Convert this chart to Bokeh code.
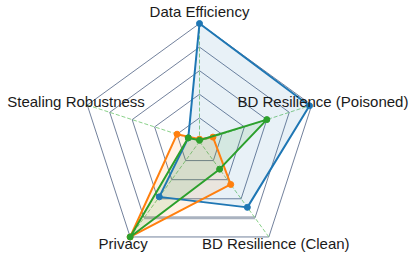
import math
from bokeh.plotting import figure
from bokeh.embed import file_html
from bokeh.resources import INLINE
from bokeh.core.properties import value

# ---- data ----
categories = ["Data Efficiency", "BD Resilience (Poisoned)", "BD Resilience (Clean)",
              "Privacy", "Stealing Robustness"]
blue_vals = [1.00, 0.98, 0.69, 0.58, 0.10]
orange_vals = [0.02, 0.12, 0.45, 1.00, 0.20]
green_vals = [0.01, 0.60, 0.29, 1.00, 0.10]
grid_levels = [0.2, 0.4, 0.6, 0.8, 1.0]

# ---- layout ----
W, H = 415, 265
R_PX = 118.0
CX_PX, CY_PX = 199.0, 141.0  # centre, from left / top

x_range = (-CX_PX / R_PX, (W - CX_PX) / R_PX)
y_range = (-(H - CY_PX) / R_PX, CY_PX / R_PX)

p = figure(width=W, height=H, x_range=x_range, y_range=y_range,
           output_backend="svg", toolbar_location=None, min_border=0)
p.axis.visible = False
p.grid.visible = False
p.outline_line_color = None
p.background_fill_color = "white"
p.border_fill_color = "white"

n = len(categories)
angles = [math.pi / 2 - 2 * math.pi * i / n for i in range(n)]


def to_xy(vals):
    xs = [v * math.cos(a) for v, a in zip(vals, angles)]
    ys = [v * math.sin(a) for v, a in zip(vals, angles)]
    return xs, ys


# grid pentagons
for lvl in grid_levels:
    xs, ys = to_xy([lvl] * n)
    p.line(xs + [xs[0]], ys + [ys[0]], line_color="#3b5075", line_width=0.8, line_alpha=0.9)

# highlighted lower edge of the 0.8 ring
xs8, ys8 = to_xy([grid_levels[3]] * n)
p.line([xs8[2], xs8[3]], [ys8[2], ys8[3]], line_color="#aab3c0", line_width=3)

# spokes
for a in angles:
    p.line([0, math.cos(a)], [0, math.sin(a)], line_color="#7ccc7c",
           line_width=0.9, line_dash="4 2")

series = [(blue_vals, "#1f77b4"), (orange_vals, "#ff7f0e"), (green_vals, "#2ca02c")]
for vals, col in series:
    xs, ys = to_xy(vals)
    p.patch(xs, ys, fill_color=col, fill_alpha=0.1, line_color=None)
for vals, col in series:
    xs, ys = to_xy(vals)
    p.line(xs + [xs[0]], ys + [ys[0]], line_color=col, line_width=2)
    p.scatter(xs, ys, size=6, fill_color=col, line_color=col)

# labels
lx, ly = to_xy([1.1] * n)
ly = [y + (0.025 if y < 0 else 0.0) for y in ly]
p.text(x=lx, y=ly, text=categories, text_align="center", text_baseline="middle",
       text_font=value("Liberation Sans"), text_font_size="15px", text_color="#1a1a1a")

open("out.html", "w").write(file_html(p, INLINE))
